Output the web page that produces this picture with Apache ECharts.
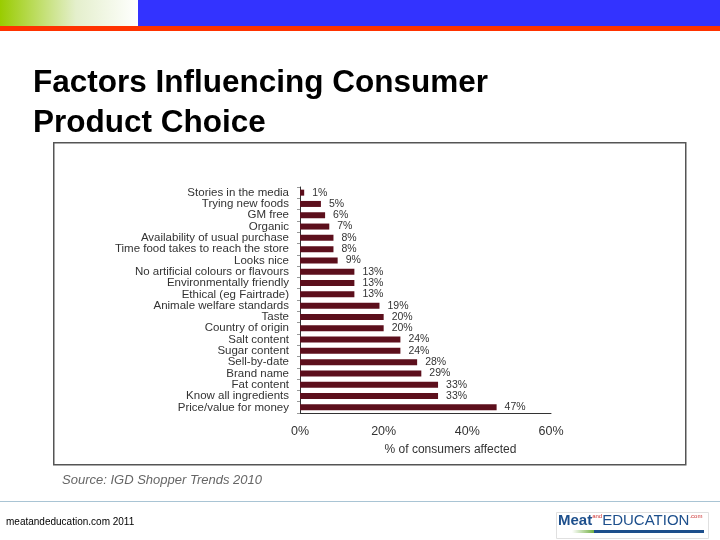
<!DOCTYPE html>
<html>
<head>
<meta charset="utf-8">
<script src="https://cdn.jsdelivr.net/npm/echarts@6/dist/echarts.min.js"></script>
<style>
  html, body { margin: 0; padding: 0; background: #fff; }
  #main { width: 720px; height: 540px; }
</style>
</head>
<body>
<div id="main"></div>
<script>
// factor names, top to bottom
var factors = [
    'Stories in the media', 'Trying new foods', 'GM free', 'Organic',
    'Availability of usual purchase', 'Time food takes to reach the store',
    'Looks nice', 'No artificial colours or flavours', 'Environmentally friendly',
    'Ethical (eg Fairtrade)', 'Animale welfare standards', 'Taste',
    'Country of origin', 'Salt content', 'Sugar content', 'Sell-by-date',
    'Brand name', 'Fat content', 'Know all ingredients', 'Price/value for money'
];
// % of consumers affected
var affected = [1, 5, 6, 7, 8, 8, 9, 13, 13, 13, 19, 20, 20, 24, 24, 28, 29, 33, 33, 47];
var xTicks = [0, 20, 40, 60];

var myChart = echarts.init(document.getElementById('main'));

var option = {
    backgroundColor: '#ffffff',
    animation: false,
    title: {
        text: 'Factors Influencing Consumer\nProduct Choice',
        left: 28,
        top: 58,
        textStyle: {
            fontFamily: 'Liberation Sans, Arial, sans-serif',
            fontSize: 31.5,
            fontWeight: 'bold',
            color: '#000000',
            lineHeight: 40
        }
    },
    graphic: [
        // header bars
        {
            type: 'rect', left: 0, top: 0, silent: true,
            shape: { width: 138, height: 26 },
            style: {
                fill: new echarts.graphic.LinearGradient(0, 0, 1, 0, [
                    { offset: 0, color: '#99cc00' },
                    { offset: 0.55, color: '#e4efcc' },
                    { offset: 1, color: '#ffffff' }
                ])
            }
        },
        {
            type: 'rect', left: 138, top: 0, silent: true,
            shape: { width: 582, height: 26 },
            style: { fill: '#3333ff' }
        },
        {
            type: 'rect', left: 0, top: 26, silent: true,
            shape: { width: 720, height: 5 },
            style: { fill: '#ff3300' }
        },
        // chart picture frame
        {
            type: 'rect', left: 53, top: 142, silent: true, z: -1,
            shape: { width: 632, height: 322 },
            style: { fill: '#ffffff', stroke: '#555555', lineWidth: 1.5 }
        },
        {
            type: 'text', left: 62, top: 474, silent: true,
            style: {
                text: 'Source: IGD Shopper Trends 2010',
                fontFamily: 'Liberation Sans, Arial, sans-serif',
                fontSize: 13, fontStyle: 'italic', fill: '#666666'
            }
        },
        // footer
        {
            type: 'rect', left: 0, top: 501, silent: true,
            shape: { width: 720, height: 1 },
            style: { fill: '#a9c4d4' }
        },
        {
            type: 'text', left: 6, top: 517, silent: true,
            style: {
                text: 'meatandeducation.com 2011',
                fontFamily: 'Liberation Sans Narrow, Liberation Sans, Arial, sans-serif',
                fontSize: 10, fill: '#000000'
            }
        },
        // logo
        {
            type: 'rect', left: 556, top: 512, silent: true,
            shape: { width: 152, height: 26 },
            style: { fill: '#ffffff', stroke: '#e0e0e0', lineWidth: 1 }
        },
        {
            type: 'text', left: 558, top: 513, silent: true,
            style: {
                text: '{a|Meat}{b|and}{c|EDUCATION}{b|.com}',
                rich: {
                    a: { fontFamily: 'Liberation Sans, Arial', fontSize: 15, fontWeight: 'bold', fill: '#1d4f8c' },
                    b: { fontFamily: 'Liberation Sans, Arial', fontSize: 6, fill: '#cc3333', verticalAlign: 'top', padding: [0, 0, 8, 0] },
                    c: { fontFamily: 'Liberation Sans Narrow, Liberation Sans, Arial', fontSize: 15, fill: '#1d4f8c' }
                }
            }
        },
        {
            type: 'rect', left: 572, top: 530, silent: true,
            shape: { width: 24, height: 3 },
            style: {
                fill: new echarts.graphic.LinearGradient(0, 0, 1, 0, [
                    { offset: 0, color: '#ffffff' },
                    { offset: 1, color: '#66aa33' }
                ])
            }
        },
        {
            type: 'rect', left: 594, top: 530, silent: true,
            shape: { width: 110, height: 3 },
            style: { fill: '#1d4f8c' }
        }
    ],
    grid: {
        left: 300,
        right: 169,
        top: 187,
        bottom: 127,
        containLabel: false
    },
    xAxis: {
        type: 'value',
        min: 0,
        max: 60,
        interval: 20,
        name: '% of consumers affected',
        nameLocation: 'middle',
        nameGap: 31,
        nameTextStyle: {
            fontFamily: 'Liberation Sans, Arial, sans-serif',
            fontSize: 12,
            color: '#333333',
            padding: [0, 0, 0, 50]
        },
        axisLine: { show: true, lineStyle: { color: '#333333', width: 1 } },
        axisTick: { show: false },
        splitLine: { show: false },
        axisLabel: {
            margin: 12,
            fontFamily: 'Liberation Sans, Arial, sans-serif',
            fontSize: 12.5,
            color: '#333333',
            formatter: function (v) {
                return xTicks.indexOf(v) >= 0 ? v + '%' : '';
            }
        }
    },
    yAxis: {
        type: 'category',
        data: factors,
        inverse: true,
        axisLine: { show: true, lineStyle: { color: '#333333', width: 1 } },
        axisTick: { show: true, length: 3, interval: 0, lineStyle: { color: '#999999' } },
        axisLabel: {
            interval: 0,
            margin: 11,
            fontFamily: 'Liberation Sans, Arial, sans-serif',
            fontSize: 11.5,
            color: '#333333',
            lineHeight: 11
        }
    },
    series: [{
        type: 'bar',
        data: affected,
        barWidth: 6,
        itemStyle: { color: '#5c0f1c' },
        label: {
            show: true,
            position: 'right',
            distance: 8,
            fontFamily: 'Liberation Sans, Arial, sans-serif',
            fontSize: 10.5,
            color: '#333333',
            formatter: '{c}%'
        }
    }]
};

myChart.setOption(option, true);
</script>
</body>
</html>
